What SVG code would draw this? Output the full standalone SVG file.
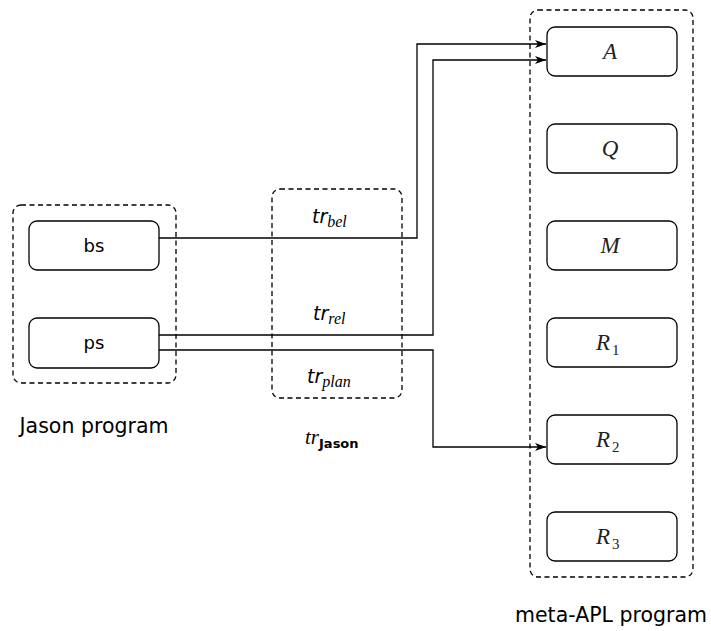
<svg xmlns="http://www.w3.org/2000/svg" width="711" height="631" viewBox="0 0 711 631">
<style>
.grp{fill:none;stroke:#000;stroke-width:1.3;stroke-dasharray:5,3.5}
.box{fill:#fff;stroke:#000;stroke-width:1.3}
.sans{font-family:"DejaVu Sans","Liberation Sans",sans-serif;font-size:18px;fill:#000}
.lbl{font-family:"DejaVu Sans","Liberation Sans",sans-serif;font-size:20.5px;fill:#000}
.math{font-family:"Liberation Serif","DejaVu Serif",serif;font-style:italic;font-size:23px;fill:#222}
.sub{font-family:"Liberation Serif","DejaVu Serif",serif;font-size:15px;fill:#222}
.tr{font-family:"DejaVu Sans","Liberation Sans",sans-serif;font-style:italic;font-size:19px;fill:#000}
.trsub{font-family:"Liberation Serif","DejaVu Serif",serif;font-style:italic;font-size:16px;fill:#000}
.conn{fill:none;stroke:#000;stroke-width:1.3}
</style>
<defs>
<marker id="arr" markerWidth="12" markerHeight="8" refX="11" refY="4" orient="auto" markerUnits="userSpaceOnUse">
<path d="M0,0 L11,4 L0,8 L3,4 Z" fill="#000"/>
</marker>
</defs>
<rect class="grp" x="13" y="205" width="163" height="178" rx="8"/>
<rect class="grp" x="272" y="189" width="130" height="209" rx="8"/>
<rect class="grp" x="530" y="10" width="163" height="567" rx="8"/>
<g id="connectors">
<path class="conn" d="M159,238 H417 V44 H546" marker-end="url(#arr)"/>
<path class="conn" d="M159,335 H433 V60 H546" marker-end="url(#arr)"/>
<path class="conn" d="M159,350 H433 V447 H546" marker-end="url(#arr)"/>
</g>
<g id="bs"><rect class="box" x="29" y="221" width="130" height="49" rx="8"/><text class="sans" x="94" y="252" text-anchor="middle">bs</text></g>
<g id="ps"><rect class="box" x="29" y="318" width="130" height="50" rx="8"/><text class="sans" x="94" y="349" text-anchor="middle">ps</text></g>
<g id="A"><rect class="box" x="547" y="27" width="130" height="49" rx="8"/><text class="math" x="610" y="59" text-anchor="middle">A</text></g>
<g id="Q"><rect class="box" x="547" y="124" width="130" height="49" rx="8"/><text class="math" x="610" y="156" text-anchor="middle">Q</text></g>
<g id="M"><rect class="box" x="547" y="221" width="130" height="49" rx="8"/><text class="math" x="610" y="253" text-anchor="middle">M</text></g>
<g id="R1"><rect class="box" x="547" y="318" width="130" height="49" rx="8"/><text class="math" x="596" y="350">R</text><text class="sub" x="612" y="355">1</text></g>
<g id="R2"><rect class="box" x="547" y="415" width="130" height="49" rx="8"/><text class="math" x="596" y="447">R</text><text class="sub" x="612" y="452">2</text></g>
<g id="R3"><rect class="box" x="547" y="512" width="130" height="49" rx="8"/><text class="math" x="596" y="544">R</text><text class="sub" x="612" y="549">3</text></g>
<g id="labels">
<text class="tr" x="312" y="223">tr<tspan class="trsub" dy="4">bel</tspan></text>
<text class="tr" x="313" y="320">tr<tspan class="trsub" dy="4">rel</tspan></text>
<text class="tr" x="307" y="383">tr<tspan class="trsub" dy="4">plan</tspan></text>
<text class="lbl" x="94" y="433" text-anchor="middle">Jason program</text>
<text class="lbl" x="611" y="622" text-anchor="middle">meta-APL program</text>
<text x="305" y="444" font-family="Liberation Serif,serif" font-style="italic" font-size="21" fill="#000">tr<tspan font-family="DejaVu Sans,sans-serif" font-style="normal" font-size="13" font-weight="bold" dy="4">Jason</tspan></text>
</g>
</svg>
